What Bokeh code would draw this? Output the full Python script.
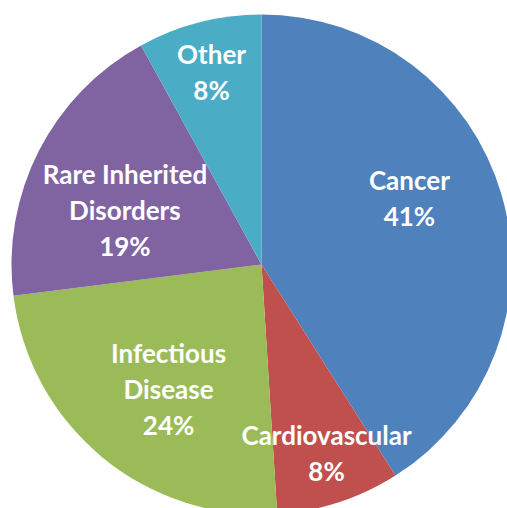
import math
from bokeh.plotting import figure
from bokeh.models import ColumnDataSource, Range1d
from bokeh.core.properties import value
from bokeh.embed import file_html
from bokeh.resources import INLINE

# ---- data ----
categories = ["Cancer", "Cardiovascular", "Infectious\nDisease", "Rare Inherited\nDisorders", "Other"]
shares = [41, 8, 24, 19, 8]
colors = ["#4F81BD", "#C0504D", "#9BBB59", "#8064A2", "#4BACC6"]

# ---- layout / style ----
W, H = 507, 508
CX, CY, R = 261, 244, 250          # centre / radius (y up, page px)
label_rfrac = [0.646, 0.803, 0.625, 0.586, 0.788]
label_dang = [7.5, 0.9, 3.1, 5.8, 0.3]   # degrees nudge from mid angle
FONT = "Lato"
FSIZE = 26
LINE_H = 36
BASE_SHIFT = -1.5

total = sum(shares)
starts, ends = [], []
a = 90.0
for s in shares:
    b = a - 360.0 * s / total
    starts.append(math.radians(b))
    ends.append(math.radians(a))
    a = b

p = figure(width=W, height=H, output_backend="svg", toolbar_location=None,
           x_range=Range1d(0, W), y_range=Range1d(508 - H, 508),
           min_border=0)
p.axis.visible = False
p.grid.visible = False
p.outline_line_color = None
p.background_fill_color = "white"

src = ColumnDataSource(dict(x=[CX] * len(shares), y=[CY] * len(shares),
                            start=starts, end=ends, color=colors))
p.wedge(x="x", y="y", radius=R, start_angle="start", end_angle="end",
        fill_color="color", line_color=None, source=src)

tx, ty, tt, toff = [], [], [], []
for i, (cat, s) in enumerate(zip(categories, shares)):
    mid = (math.degrees(starts[i]) + math.degrees(ends[i])) / 2 + label_dang[i]
    r = R * label_rfrac[i]
    lx = CX + r * math.cos(math.radians(mid))
    ly = CY + r * math.sin(math.radians(mid))
    lines = cat.split("\n") + [f"{s}%"]
    n = len(lines)
    for j, ln in enumerate(lines):
        tx.append(lx)
        ty.append(ly)
        tt.append(ln)
        toff.append((j - (n - 1) / 2) * LINE_H + BASE_SHIFT)

lsrc = ColumnDataSource(dict(x=tx, y=ty, text=tt, yoff=toff))
p.text(x="x", y="y", text="text", y_offset="yoff", source=lsrc,
       text_font=value(FONT), text_font_style="bold", text_font_size=f"{FSIZE}px",
       text_color="white", text_align="center", text_baseline="alphabetic")

open("out.html", "w").write(file_html(p, INLINE))
